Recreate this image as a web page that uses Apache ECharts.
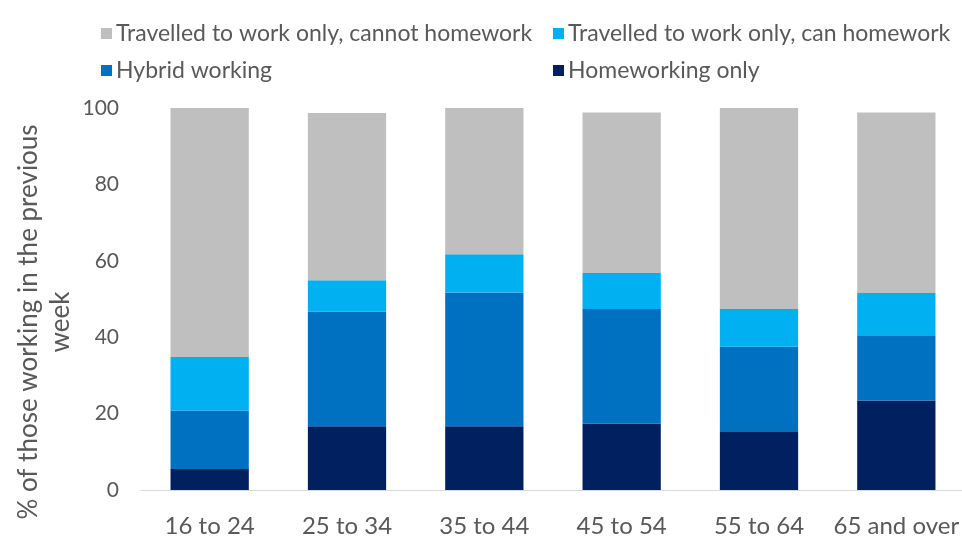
<!DOCTYPE html>
<html>
<head>
<meta charset="utf-8">
<script src="https://cdn.jsdelivr.net/npm/echarts@6/dist/echarts.min.js"></script>
<style>
html,body{margin:0;padding:0;background:#fff;}
#c{width:962px;height:539px;}
</style>
</head>
<body>
<div id="c"></div>
<script>
var categories = ['16 to 24', '25 to 34', '35 to 44', '45 to 54', '55 to 64', '65 and over'];
var homeworkingOnly = [5.5, 16.7, 16.7, 17.4, 15.4, 23.4];
var hybridWorking = [15.3, 30.0, 35.0, 30.0, 22.1, 17.1];
var travelledCanHomework = [14.0, 8.2, 10.0, 9.4, 9.9, 11.1];
var travelledCannotHomework = [65.2, 43.8, 38.3, 42.0, 52.6, 47.2];
var yTicks = [0, 20, 40, 60, 80, 100];
var yAxisTitle = ['% of those working in the previous', 'week'];

var seriesNames = [
  'Travelled to work only, cannot homework',
  'Travelled to work only, can homework',
  'Hybrid working',
  'Homeworking only'
];
var colors = {
  'Travelled to work only, cannot homework': '#bfbfbf',
  'Travelled to work only, can homework': '#00b0f0',
  'Hybrid working': '#0070c0',
  'Homeworking only': '#002060'
};
var FONT = 'Lato';
var txt = '#595959';

function legendAt(name, left, top) {
  return {
    data: [name], left: left, top: top, itemWidth: 11, itemHeight: 11,
    itemGap: 5, icon: 'rect', selectedMode: false, padding: 0,
    textStyle: {fontFamily: FONT, fontSize: 23, color: txt, padding: [0, 0, 0, -1]}
  };
}

var chart = echarts.init(document.getElementById('c'), null, {renderer: 'canvas'});
function bar(name, data) {
  return {
    name: name, type: 'bar', stack: 'total', data: data, barWidth: '57%',
    itemStyle: {color: colors[name]}
  };
}
chart.setOption({
  animation: false,
  textStyle: {fontFamily: FONT},
  legend: [
    legendAt(seriesNames[0], 101, 22),
    legendAt(seriesNames[1], 553, 22),
    legendAt(seriesNames[2], 101, 59),
    legendAt(seriesNames[3], 553, 59)
  ],
  grid: {left: 141, right: -3, top: 108, bottom: 49, containLabel: false, outerBoundsMode: 'none'},
  xAxis: {
    type: 'category', data: categories,
    axisLine: {lineStyle: {color: '#d9d9d9', width: 1}},
    axisTick: {show: false},
    axisLabel: {fontFamily: FONT, fontSize: 24, color: txt, margin: 24, interval: 0}
  },
  yAxis: {
    type: 'value', min: yTicks[0], max: yTicks[yTicks.length - 1], interval: 20,
    axisLine: {show: false}, axisTick: {show: false}, splitLine: {show: false},
    axisLabel: {fontFamily: FONT, fontSize: 21, color: txt, margin: 22}
  },
  graphic: [{
    type: 'text', x: 45, y: 322, rotation: Math.PI / 2,
    style: {
      text: yAxisTitle.join('\n'), fontFamily: FONT, fontSize: 26, fill: txt,
      lineHeight: 32, align: 'center', verticalAlign: 'middle'
    }
  }],
  series: [
    bar('Homeworking only', homeworkingOnly),
    bar('Hybrid working', hybridWorking),
    bar('Travelled to work only, can homework', travelledCanHomework),
    bar('Travelled to work only, cannot homework', travelledCannotHomework)
  ]
});
</script>
</body>
</html>
